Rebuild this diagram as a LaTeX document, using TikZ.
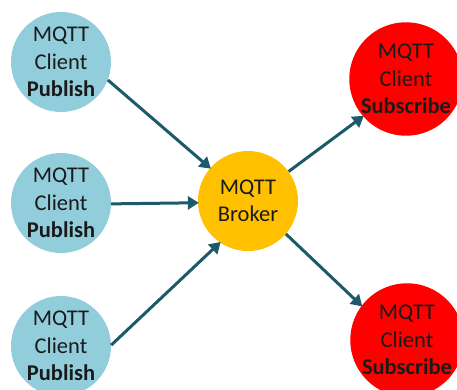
\documentclass[tikz,border=0pt]{standalone}
\usepackage{fontspec}
\setmainfont{Carlito}
\usetikzlibrary{arrows.meta}
\definecolor{pubblue}{HTML}{92CDDC}
\definecolor{brokergold}{HTML}{FFC000}
\definecolor{subred}{HTML}{FF0000}
\definecolor{flowteal}{HTML}{1C5A6A}
\definecolor{labelink}{HTML}{1A1A1A}
\tikzset{
  client/.style={circle, minimum size=100pt, inner sep=0pt, fill=pubblue,
    text=labelink, align=center,
    font=\fontsize{22.5pt}{27.5pt}\selectfont},
  broker/.style={client, fill=brokergold},
  subscriber/.style={client, minimum size=106pt, fill=subred},
  flow/.style={draw=flowteal, line width=3pt,
    -{Triangle[length=11pt,width=13pt]}, shorten >=-1pt}
}
\begin{document}
\begin{tikzpicture}[x=1pt, y=-1pt]
  \useasboundingbox (0,0) rectangle (457,389);
  % publishers
  \node[client] (p1) at (61,62)  {MQTT\\Client\\\textbf{Publish}};
  \node[client] (p2) at (61,203) {MQTT\\Client\\\textbf{Publish}};
  \node[client] (p3) at (61,346) {MQTT\\Client\\\textbf{Publish}};
  % broker
  \node[broker] (b) at (248,201) {MQTT\\Broker};
  % subscribers
  \node[subscriber] (s1) at (406,79)  {MQTT\\Client\\\textbf{Subscribe}};
  \node[subscriber] (s2) at (407,340) {MQTT\\Client\\\textbf{Subscribe}};
  % message flow
  \draw[flow] (p1.-21) -- (b.139);
  \draw[flow] (p2.-1)  -- (b.182);
  \draw[flow] (p3.1)   -- (b.-124);
  \draw[flow] (b.36)   -- (s1.221);
  \draw[flow] (b.-41)  -- (s2.143);
\end{tikzpicture}
\end{document}
